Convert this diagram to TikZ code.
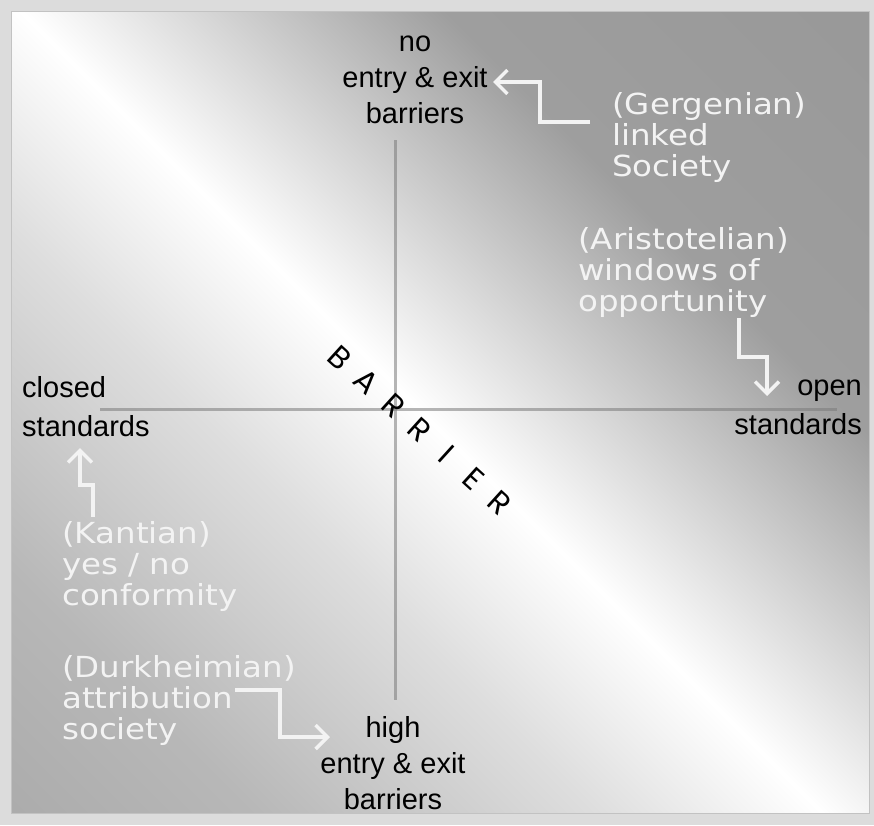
\documentclass[tikz,border=0pt]{standalone}
\usepackage{fontspec}
\setmainfont{Liberation Sans}
\newfontfamily\chalkfont[FakeStretch=1.12]{DejaVu Sans}
\newfontfamily\bandfont{Poppins}
\usetikzlibrary{arrows.meta, positioning}
\definecolor{cframe}{HTML}{DCDCDC}
\definecolor{cedge}{HTML}{C2C2C2}
\definecolor{caxis}{HTML}{7A7A7A}
\definecolor{cchalk}{HTML}{F3F3F3}
\pgfdeclareverticalshading{barrierband}{100bp}{%
  color(0bp)=(black!39); color(25bp)=(black!36); color(35.7bp)=(black!28);
  color(44.3bp)=(black!13); color(50bp)=(white); color(54.3bp)=(black!15);
  color(60.7bp)=(black!38); color(100bp)=(black!46)}
\newcommand{\spaced}[1]{\makebox[36pt]{#1}}
\tikzset{
  every picture/.style={x=1pt, y=-1pt},
  axlabel/.style={font=\fontsize{29}{36}\selectfont, text=black, align=center, inner sep=0pt},
  stdlabel/.style={font=\fontsize{29}{39}\selectfont, text=black, inner sep=0pt},
  chalk/.style={font=\chalkfont\fontsize{29}{31}\selectfont, text=cchalk, align=left, inner sep=0pt, anchor=west},
  pointer/.style={draw=cchalk, line width=3.5pt, -{Straight Barb[length=12pt, width=24pt, line width=3.5pt]}},
  crossline/.style={draw=caxis, line width=3pt, opacity=0.55},
  barrierword/.style={font=\bandfont\fontsize{31}{31}\selectfont, rotate=-42.2, inner sep=0pt},
}
\begin{document}
\begin{tikzpicture}
  % frame and background band
  \fill[cframe] (0,0) rectangle (874,825);
  \begin{scope}
    \clip (11,11) rectangle (869,813);
    \shade[shading=barrierband, transform canvas={rotate around={-45:(424,414)}}]
      (-276,-286) rectangle (1124,1114);
  \end{scope}
  \draw[cedge, line width=1pt] (11,11) rectangle (869,813);
  % cross
  \draw[crossline] (395,140) -- (395,700);
  \draw[crossline] (100,409) -- (837,409);
  % axis ends
  \node[axlabel] (noBar) at (415,80) {no\\entry \& exit\\barriers};
  \node[axlabel] (hiBar) at (393,763) {high\\entry \& exit\\barriers};
  \node[stdlabel, align=left, anchor=west] (closedStd) at (22,407) {closed\\standards};
  \node[stdlabel, align=right, anchor=east] (openStd) at (862,407) {open\\standards};
  % diagonal word
  \node[barrierword] (barrier) at (420,430)
    {\spaced{B}\spaced{A}\spaced{R}\spaced{R}\spaced{I}\spaced{E}\spaced{R}};
  % the four societies
  \node[chalk] (gerg) at (612,137) {(Gergenian)\\linked\\Society};
  \node[chalk] (arist) at (578,272) {(Aristotelian)\\windows of\\opportunity};
  \node[chalk] (kant) at (62,566) {(Kantian)\\yes / no\\conformity};
  \node[chalk] (durk) at (62,700) {(Durkheimian)\\attribution\\society};
  % pointers
  \coordinate (gergTail) at (590,122);
  \coordinate (noBarTip) at (493,82);
  \coordinate (aristTail) at (739,318);
  \coordinate (openTip) at (767,396);
  \coordinate (kantTail) at (93,517);
  \coordinate (closedTip) at (80,448);
  \coordinate (durkTail) at (235,690);
  \coordinate (hiTip) at (330,737);
  \draw[pointer] (gergTail) -- ++(-50,0) |- (noBarTip);
  \draw[pointer] (aristTail) -- ++(0,39) -| (openTip);
  \draw[pointer] (kantTail) -- ++(0,-32) -| (closedTip);
  \draw[pointer] (durkTail) -- ++(45,0) |- (hiTip);
\end{tikzpicture}
\end{document}
